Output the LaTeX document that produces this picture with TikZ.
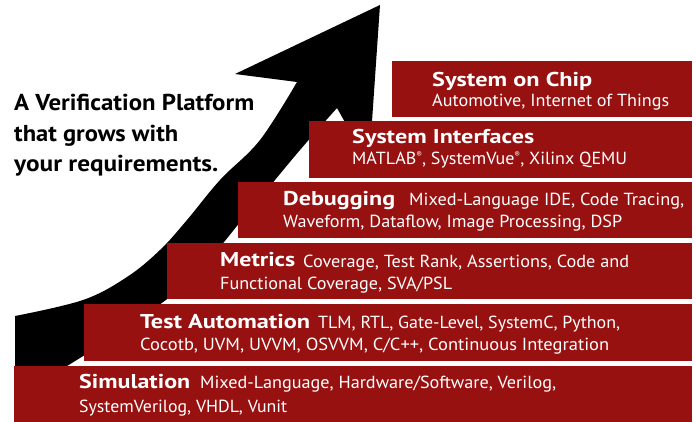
\documentclass[tikz,border=0pt]{standalone}
\usepackage{fontspec}
\setmainfont{PT Sans}
\usepackage{graphicx}
\definecolor{vred}{RGB}{152,17,17}
\newcommand\fitw[2]{\resizebox{#1pt}{\height}{#2}}
\newcommand\rmark{\raisebox{0.42em}{\fontsize{8}{8}\selectfont ®}}
\begin{document}
\begin{tikzpicture}[x=1pt,y=-1pt,
  box/.style={fill=vred},
  hd/.style={anchor=base west,inner sep=0pt,text=white,font=\bfseries\fontsize{20}{20}\selectfont},
  dt/.style={anchor=base west,inner sep=0pt,text=white,font=\fontsize{17.5}{18}\selectfont},
  ttl/.style={anchor=base west,inner sep=0pt,text=black,font=\bfseries\fontsize{23}{24}\selectfont}]
\useasboundingbox (0,0) rectangle (696,422);
\fill[white] (0,0) rectangle (696,422);
% arrow
\fill[black] (15,380) -- plot[smooth,tension=0.6] coordinates {(15,316) (83,300) (127,277) (160,250) (187,220) (220,180) (260,140) (297,82)}
  -- (235,74) -- (380,5) -- (369,165) -- (337,108)
  -- plot[smooth,tension=0.6] coordinates {(337,108) (300,150) (250,210) (190,280) (120,332) (67,366)}
  -- (67,380) -- cycle;
% title
\node[ttl] (t1) at (14,111) {\fitw{240}{A Verification Platform}};
\node[ttl] (t2) at (14,141.5) {\fitw{164}{that grows with}};
\node[ttl] (t3) at (14,172) {\fitw{204}{your requirements.}};
% boxes
\fill[box] (392,61) rectangle (692,117);
\fill[box] (309,121) rectangle (692,178);
\fill[box] (238,182) rectangle (692,238);
\fill[box] (167,243) rectangle (692,299);
\fill[box] (84,304) rectangle (692,361);
\fill[box] (14,366) rectangle (692,422);
% System on Chip
\node[hd] (soch) at (432,87) {\fitw{160}{System on Chip}};
\node[dt] (socd) at (432,107) {\fitw{237}{Automotive, Internet of Things}};
% System Interfaces
\node[hd] (sih) at (352,144) {\fitw{182}{System Interfaces}};
\node[dt] (sid) at (352,165) {\fitw{275}{MATLAB\rmark, SystemVue\rmark, Xilinx QEMU}};
% Debugging
\node[hd] (dbh) at (283,206) {\fitw{112}{Debugging}};
\node[dt] (dbd1) at (409,206) {\fitw{275}{Mixed-Language IDE, Code Tracing,}};
\node[dt] (dbd2) at (283,228) {\fitw{339}{Waveform, Dataflow, Image Processing, DSP}};
% Metrics
\node[hd] (meh) at (220,267) {\fitw{75}{Metrics}};
\node[dt] (med1) at (303,267) {\fitw{326}{Coverage, Test Rank, Assertions, Code and}};
\node[dt] (med2) at (220,289) {\fitw{232}{Functional Coverage, SVA/PSL}};
% Test Automation
\node[hd] (tah) at (140,328) {\fitw{170}{Test Automation}};
\node[dt] (tad1) at (318,328) {\fitw{302}{TLM, RTL, Gate-Level, SystemC, Python,}};
\node[dt] (tad2) at (140,350) {\fitw{469}{Cocotb, UVM, UVVM, OSVVM, C/C++, Continuous Integration}};
% Simulation
\node[hd] (smh) at (79,388) {\fitw{111}{Simulation}};
\node[dt] (smd1) at (200,388) {\fitw{356}{Mixed-Language, Hardware/Software, Verilog,}};
\node[dt] (smd2) at (79,412) {\fitw{208}{SystemVerilog, VHDL, Vunit}};
\end{tikzpicture}
\end{document}
